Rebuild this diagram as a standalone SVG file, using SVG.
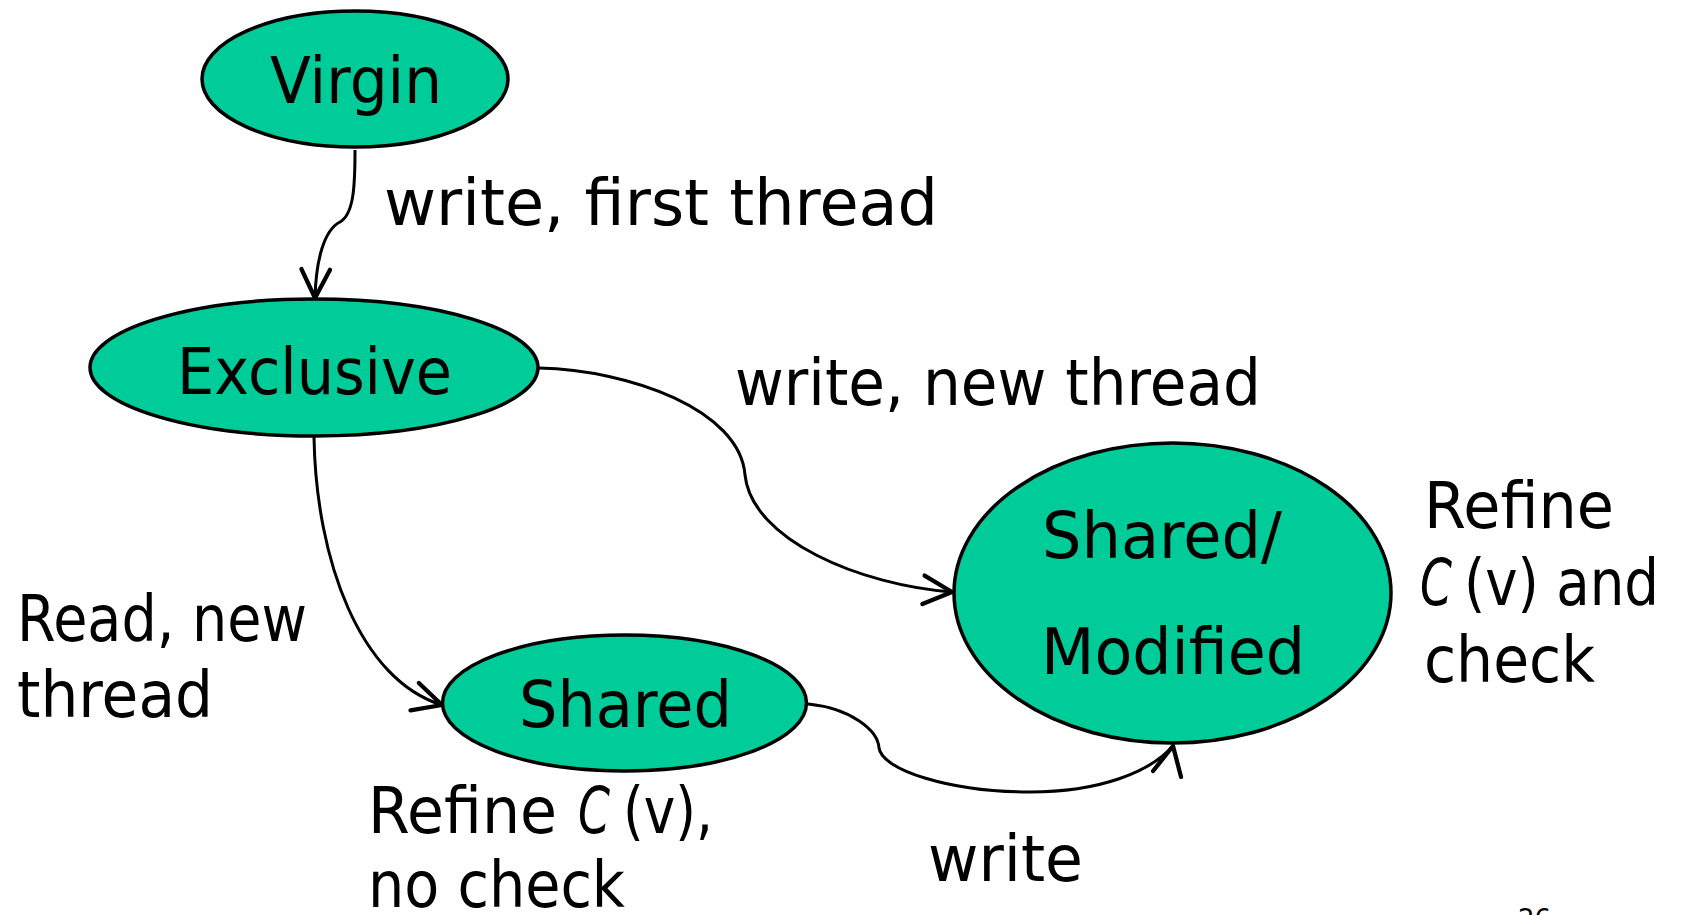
<svg xmlns="http://www.w3.org/2000/svg" width="1681" height="915" viewBox="0 0 1681 915">
<defs>
<style>
.node{fill:#00CC99;stroke:#000;stroke-width:3.5}
.t{font-family:"DejaVu Sans","Liberation Sans",sans-serif;font-size:64px;fill:#000}
.i{font-style:italic}
.edge{fill:none;stroke:#000;stroke-width:3}
</style>
<marker id="arr" markerUnits="userSpaceOnUse" markerWidth="40" markerHeight="40" viewBox="-24 -14 28 28" refX="0" refY="0" orient="auto">
<path d="M-20,-10 L0,0 L-20,10" fill="none" stroke="#000" stroke-width="3" stroke-linecap="round" stroke-linejoin="round"/>
</marker>
<marker id="arrUp" markerUnits="userSpaceOnUse" markerWidth="40" markerHeight="40" viewBox="-24 -14 28 28" refX="0" refY="0" orient="-78">
<path d="M-20,-10 L0,0 L-20,10" fill="none" stroke="#000" stroke-width="3" stroke-linecap="round" stroke-linejoin="round"/>
</marker>
</defs>
<rect width="1681" height="915" fill="#fff"/>
<g id="connectors">
<path class="edge" d="M355,150 C355,185 354,214 340,222 C324,230 316,260 315,298" marker-end="url(#arr)"/>
<path class="edge" d="M539,368 C630,370 740,410 745,475 C752,540 860,585 952,592" marker-end="url(#arr)"/>
<path class="edge" d="M314,437 C316,560 360,680 442,705" marker-end="url(#arr)"/>
<path class="edge" d="M808,704 C850,708 878,730 879,748 C882,770 950,792 1030,792 C1100,792 1150,772 1173,746" marker-end="url(#arrUp)"/>
</g>
<g id="virgin">
<ellipse class="node" cx="355" cy="79" rx="153" ry="68"/>
<text class="t" x="270" y="103" textLength="172" lengthAdjust="spacingAndGlyphs">Virgin</text>
</g>
<g id="exclusive">
<ellipse class="node" cx="314" cy="367.5" rx="224" ry="68.5"/>
<text class="t" x="177" y="394" textLength="275" lengthAdjust="spacingAndGlyphs">Exclusive</text>
</g>
<g id="shared">
<ellipse class="node" cx="624.5" cy="703" rx="182" ry="68"/>
<text class="t" x="519" y="727" textLength="213" lengthAdjust="spacingAndGlyphs">Shared</text>
</g>
<g id="sharedModified">
<ellipse class="node" cx="1172.5" cy="593" rx="218.5" ry="150"/>
<text class="t" x="1042" y="558" textLength="240" lengthAdjust="spacingAndGlyphs">Shared/</text>
<text class="t" x="1041" y="674" textLength="264" lengthAdjust="spacingAndGlyphs">Modified</text>
</g>
<g id="labels">
<text class="t" x="384" y="225" textLength="554" lengthAdjust="spacingAndGlyphs">write, first thread</text>
<text class="t" x="735" y="405" textLength="526" lengthAdjust="spacingAndGlyphs">write, new thread</text>
<text class="t" x="17" y="641" textLength="290" lengthAdjust="spacingAndGlyphs">Read, new</text>
<text class="t" x="17" y="717" textLength="196" lengthAdjust="spacingAndGlyphs">thread</text>
<text class="t" x="368" y="833" textLength="189" lengthAdjust="spacingAndGlyphs">Refine</text>
<text class="t i" x="578" y="833" textLength="32" lengthAdjust="spacingAndGlyphs">C</text>
<text class="t" x="623" y="833" textLength="90" lengthAdjust="spacingAndGlyphs">(v),</text>
<text class="t" x="368" y="907" textLength="257" lengthAdjust="spacingAndGlyphs">no check</text>
<text class="t" x="928" y="881" textLength="155" lengthAdjust="spacingAndGlyphs">write</text>
<text class="t" x="1424" y="528" textLength="190" lengthAdjust="spacingAndGlyphs">Refine</text>
<text class="t i" x="1420" y="605" textLength="32" lengthAdjust="spacingAndGlyphs">C</text>
<text class="t" x="1464" y="605" textLength="195" lengthAdjust="spacingAndGlyphs">(v) and</text>
<text class="t" x="1424" y="682" textLength="171" lengthAdjust="spacingAndGlyphs">check</text>
<text x="1518" y="928" style="font-family:'DejaVu Sans',sans-serif;font-size:26px;fill:#000">26</text>
</g>
</svg>
